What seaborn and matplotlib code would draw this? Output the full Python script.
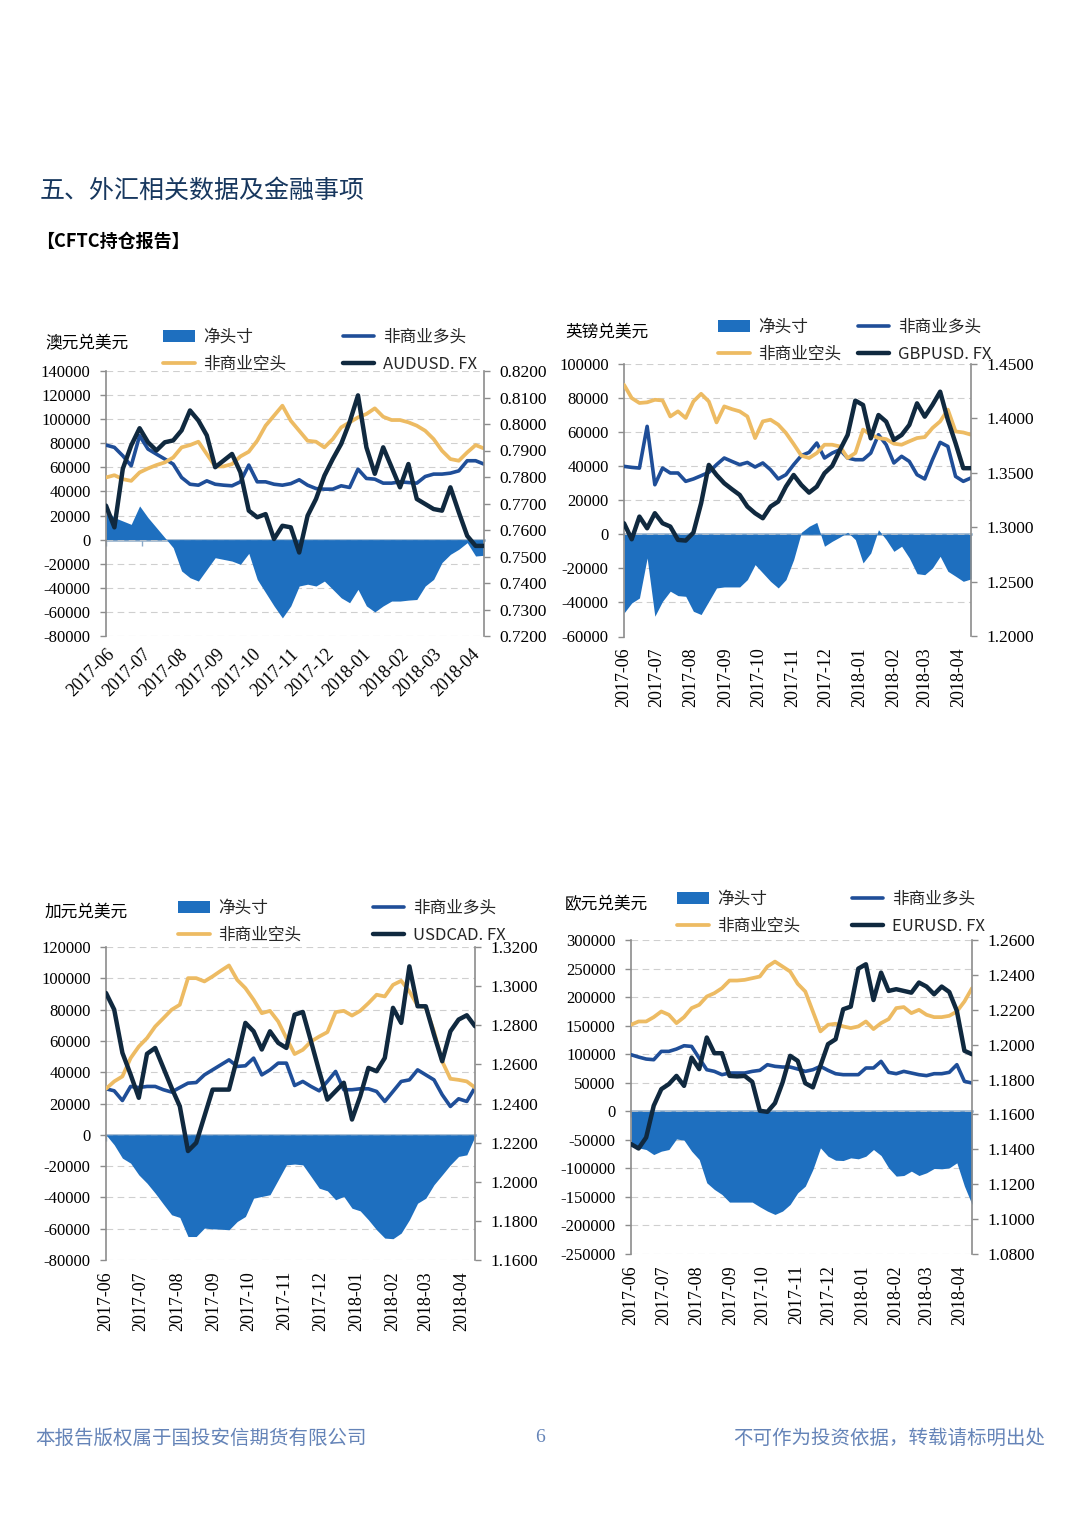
import numpy as np
import pandas as pd
import matplotlib
matplotlib.use("Agg")
import matplotlib.pyplot as plt
import matplotlib.dates as mdates
import seaborn as sns

# ---------------- data ----------------
dates = pd.date_range("2017-06-06", periods=46, freq="7D")
month_ticks = pd.date_range("2017-06-06", periods=11, freq=pd.DateOffset(months=1))
month_labels = [d.strftime("%Y-%m") for d in month_ticks]

legend_labels = ["净头寸", "非商业空头", "非商业多头"]

aud_net = [25200, 18300, 15500, 12700, 28000, 18300, 10000, 1700, -6700, -26000, -31600, -34400,
           -24700, -15000, -16400, -17800, -20500, -11400, -33000, -44000, -55000, -65000, -55000,
           -38500, -37000, -38500, -34400, -41300, -48300, -52400, -41300, -55000, -60000, -55000,
           -51000, -51000, -50200, -49700, -38500, -33000, -19000, -12200, -8000, -2500, -13600, -13000]
aud_long = [78500, 76600, 69600, 61300, 86300, 75200, 71000, 66900, 62700, 51600, 46000, 45200,
            48800, 46000, 45200, 44700, 48000, 61900, 48000, 48000, 46000, 45200, 46500,
            49700, 45200, 42400, 41900, 41900, 44700, 43300, 58500, 50800, 50200, 46900, 46900,
            48000, 47400, 46900, 52400, 54400, 54400, 55200, 57100, 65500, 65500, 62700]
aud_short = [51600, 53500, 50200, 48800, 55800, 59100, 61900, 64100, 68200, 76600, 78500, 81300,
             71000, 60800, 60800, 62700, 69100, 73000, 82100, 94600, 102900, 111200, 98700,
             90400, 82100, 81300, 76600, 83500, 93200, 97400, 101500, 104300, 109000, 102000, 99300,
             99300, 97400, 94600, 90400, 83500, 73800, 66900, 65500, 72400, 78500, 75700]
aud_fx = [0.7692, 0.7610, 0.7831, 0.7919, 0.7984, 0.7931, 0.7900, 0.7931, 0.7938, 0.7976, 0.8051,
          0.8013, 0.7957, 0.7837, 0.7862, 0.7887, 0.7818, 0.7673, 0.7648, 0.7660, 0.7566, 0.7616,
          0.7610, 0.7515, 0.7654, 0.7717, 0.7805, 0.7868, 0.7925, 0.8007, 0.8108, 0.7912, 0.7812,
          0.7912, 0.7837, 0.7761, 0.7849, 0.7717, 0.7698, 0.7679, 0.7673, 0.7761, 0.7667, 0.7578,
          0.7540, 0.7540]

gbp_net = [-46200, -40300, -37400, -13900, -48100, -39300, -33400, -36000, -36400, -45200, -47100,
           -39300, -31500, -30900, -30900, -30900, -26600, -17800, -22700, -27600, -31500, -26600,
           -14900, 1200, 4700, 7000, -7000, -4100, -1600, 1200, -3100, -16800, -11000, 2700, -3100,
           -10000, -7000, -13900, -23100, -23700, -19800, -12900, -21700, -24600, -27600, -26200]
gbp_long = [39900, 39300, 38900, 63400, 29100, 38900, 36000, 36000, 31100, 32500, 34400, 36400,
            40900, 44800, 42800, 40900, 42200, 39500, 41900, 37900, 32500, 35000, 40900,
            46200, 48100, 53600, 44800, 47700, 49700, 44800, 43800, 43800, 47700, 58500, 52600,
            41900, 45800, 42800, 35000, 32500, 43800, 54000, 51600, 34000, 31100, 33100]
gbp_short = [87800, 80000, 77100, 77500, 79000, 78600, 69200, 72200, 68300, 78000, 82500, 78000,
             65700, 75100, 73500, 72200, 69200, 56500, 66300, 67300, 64400, 59500, 53000,
             46200, 44800, 47700, 52600, 52600, 51600, 44800, 47700, 61500, 58500, 56500, 55900,
             53200, 52600, 54600, 56500, 57100, 62400, 66300, 73200, 60400, 59800, 58500]
gbp_fx = [1.3039, 1.2892, 1.3100, 1.2993, 1.3131, 1.3039, 1.3009, 1.2886, 1.2880, 1.2953, 1.3222,
          1.3574, 1.3482, 1.3406, 1.3351, 1.3299, 1.3192, 1.3131, 1.3085, 1.3192, 1.3238, 1.3375,
          1.3482, 1.3390, 1.3320, 1.3375, 1.3498, 1.3565, 1.3711, 1.3849, 1.4164, 1.4124, 1.3818,
          1.4032, 1.3971, 1.3803, 1.3849, 1.3941, 1.4139, 1.4017, 1.4124, 1.4246, 1.3987, 1.3773,
          1.3544, 1.3544]

cad_net = [0, -6400, -14900, -18100, -25600, -30900, -37300, -44300, -51100, -52800, -65000, -65000,
           -59600, -60100, -60300, -60700, -55400, -52200, -40500, -39400, -38300, -28800, -19200,
           -18700, -19200, -26600, -34100, -35800, -41500, -39400, -46900, -48600, -54300, -60700,
           -66000, -66400, -62800, -54300, -43700, -40500, -31900, -25600, -19200, -13800, -12800, -1000]
cad_long = [29400, 28100, 21900, 30900, 30200, 30900, 30900, 28800, 27300, 30200, 33000, 33400,
            38300, 41500, 44700, 47900, 43700, 44100, 49000, 38300, 41500, 45800, 45800, 31500,
            34100, 30900, 28100, 34100, 40500, 28800, 28800, 29400, 29400, 27700, 21300, 27700,
            34100, 35100, 41500, 38300, 35100, 25600, 18100, 23000, 21300, 30200]
cad_short = [29400, 34100, 37300, 49000, 56400, 61800, 69200, 74500, 79900, 83100, 100100, 100100,
             98000, 101200, 104800, 108200, 99000, 93700, 86300, 77700, 79200, 72400, 61800, 51600,
             54300, 59600, 62800, 65600, 78400, 79200, 76200, 79200, 84100, 89500, 88400, 95800,
             98400, 91600, 82600, 81400, 66000, 46900, 35800, 35100, 34100, 30200]
cad_fx = [1.2965, 1.2880, 1.2659, 1.2548, 1.2429, 1.2654, 1.2684, 1.2582, 1.2480, 1.2386, 1.2157,
          1.2199, 1.2335, 1.2471, 1.2471, 1.2471, 1.2633, 1.2812, 1.2769, 1.2676, 1.2769, 1.2710,
          1.2684, 1.2854, 1.2868, 1.2718, 1.2565, 1.2420, 1.2463, 1.2506, 1.2318, 1.2437, 1.2582,
          1.2565, 1.2633, 1.2889, 1.2812, 1.3101, 1.2897, 1.2897, 1.2752, 1.2616, 1.2769, 1.2829,
          1.2851, 1.2795]

eur_net = [-58300, -64100, -67000, -75800, -69900, -67000, -48400, -50700, -69900, -84500, -125300,
           -136900, -145700, -159100, -159100, -159100, -159100, -167300, -174800, -180700, -174800,
           -163200, -142800, -131100, -102000, -64100, -78700, -85700, -86300, -81600, -83300, -78700,
           -67000, -77500, -99100, -113600, -112500, -104900, -112500, -107800, -100200, -100800,
           -99100, -90300, -131100, -163200]
eur_long = [99100, 95000, 91500, 90300, 104900, 104900, 109000, 114800, 113600, 93000, 72800, 69900,
            64100, 67000, 67000, 67000, 69900, 71700, 81600, 78700, 77500, 77500, 74000,
            69900, 72800, 78700, 71700, 65800, 64100, 64100, 64100, 75800, 75800, 87400, 68200,
            65800, 69900, 67000, 64100, 62400, 65800, 65800, 68200, 81600, 52400, 49500]
eur_short = [151500, 157300, 157300, 164900, 174800, 169000, 154400, 164900, 180700, 186500, 201000,
             206900, 215600, 229000, 229000, 230200, 233100, 236000, 253500, 262200, 253500, 244800,
             223300, 209800, 174800, 139900, 151500, 153300, 148600, 145700, 148600, 157300, 144000,
             154400, 161400, 180700, 182500, 171900, 177700, 169000, 164900, 164900, 167200, 174800,
             192300, 215600]
eur_fx = [1.1430, 1.1405, 1.1468, 1.1650, 1.1745, 1.1774, 1.1821, 1.1764, 1.1926, 1.1860, 1.2041,
          1.1951, 1.1951, 1.1821, 1.1818, 1.1821, 1.1787, 1.1621, 1.1615, 1.1665, 1.1783, 1.1936,
          1.1907, 1.1779, 1.1755, 1.1879, 1.2003, 1.2031, 1.2203, 1.2218, 1.2436, 1.2461, 1.2256,
          1.2413, 1.2308, 1.2318, 1.2308, 1.2298, 1.2356, 1.2333, 1.2289, 1.2333, 1.2302, 1.2194,
          1.1965, 1.1945]

# ---------------- style ----------------
sns.set_theme(style="white")
plt.rcParams["font.family"] = ["Noto Sans CJK SC", "DejaVu Sans"]
plt.rcParams["axes.unicode_minus"] = False

NET_C = "#1E6FBF"
LONG_C = "#1F4E98"
SHORT_C = "#EDBB63"
FX_C = "#10293F"
SPINE_C = "#8C8C8C"
ZERO_C = "#8CAAC8"
GRID_C = "#CFCFCF"
NUM_FONT = "Liberation Serif"

W, H = 1080, 1526
fig = plt.figure(figsize=(W / 100, H / 100), dpi=100)
fig.patch.set_facecolor("white")


def fxy(x, y):
    return x / W, 1 - y / H


def panel(rect, net, long_, short, fx, fxname, lyl, lstep, ryl, rstep, rot, lab_pad,
          leg_xy, colsp, title, title_xy):
    l, t, r, b = rect
    ax = fig.add_axes([l / W, 1 - b / H, (r - l) / W, (b - t) / H])
    df = pd.DataFrame({"date": dates, "net": net, "long": long_, "short": short, "fx": fx})

    h_net = ax.fill_between(df["date"], 0, df["net"], color=NET_C, lw=0, zorder=1)
    sns.lineplot(data=df, x="date", y="long", ax=ax, color=LONG_C, lw=2.6, zorder=3)
    sns.lineplot(data=df, x="date", y="short", ax=ax, color=SHORT_C, lw=2.7, zorder=3)
    h_long, h_short = ax.lines[0], ax.lines[1]

    ax.set_ylim(*lyl)
    lt = np.arange(lyl[0], lyl[1] + 1, lstep)
    ax.set_yticks(lt)
    ax.set_yticklabels([f"{int(v)}" for v in lt])
    ax.set_xlim(dates[0], dates[-1])
    ax.set_xticks(month_ticks)
    if rot == 45:
        ax.set_xticklabels(month_labels, rotation=45, ha="right", rotation_mode="anchor")
    else:
        ax.set_xticklabels(month_labels, rotation=90, ha="center", va="top")
    ax.set_xlabel("")
    ax.set_ylabel("")
    ax.set_axisbelow(True)
    ax.yaxis.grid(True, color=GRID_C, linestyle=(0, (6, 4)), lw=0.8)
    ax.xaxis.grid(False)
    for s in ["top", "right", "bottom"]:
        ax.spines[s].set_visible(False)
    ax.spines["left"].set_color(SPINE_C)
    ax.spines["left"].set_linewidth(1.2)
    ax.tick_params(axis="y", which="both", left=True, direction="out", length=4, width=1,
                   color=SPINE_C, labelsize=12, labelfontfamily=NUM_FONT, pad=7, labelcolor="black")
    ax.tick_params(axis="x", which="both", bottom=False, length=0, labelsize=13,
                   labelfontfamily=NUM_FONT, pad=lab_pad, labelcolor="black")

    # category axis line at zero, with month tick marks
    frac = (0 - lyl[0]) / (lyl[1] - lyl[0])
    sec = ax.secondary_xaxis(frac)
    sec.set_xticks(mdates.date2num(month_ticks))
    sec.tick_params(axis="x", direction="out", length=4, width=1, color=ZERO_C, labelbottom=False,
                    labeltop=False)
    sec.spines["bottom"].set_color(ZERO_C)
    sec.spines["bottom"].set_linewidth(1.8)

    ax2 = ax.twinx()
    sns.lineplot(data=df, x="date", y="fx", ax=ax2, color=FX_C, lw=3.2, zorder=4)
    h_fx = ax2.lines[0]
    ax2.set_ylim(*ryl)
    rt = np.arange(ryl[0], ryl[1] + rstep / 2, rstep)
    ax2.set_yticks(rt)
    ax2.set_yticklabels([f"{v:.4f}" for v in rt])
    ax2.set_ylabel("")
    ax2.set_xlabel("")
    ax2.grid(False)
    for s in ["top", "left", "bottom"]:
        ax2.spines[s].set_visible(False)
    ax2.spines["right"].set_color(SPINE_C)
    ax2.spines["right"].set_linewidth(1.2)
    ax2.tick_params(axis="y", right=True, direction="out", length=4, width=1, color=SPINE_C,
                    labelsize=12.5, labelfontfamily=NUM_FONT, pad=7, labelcolor="black")
    ax2.set_xlim(dates[0], dates[-1])

    fig.legend(handles=[h_net, h_short, h_long, h_fx],
               labels=legend_labels + [fxname],
               loc="upper left", bbox_to_anchor=fxy(leg_xy[0], leg_xy[1] - 7),
               bbox_transform=fig.transFigure, ncol=2, frameon=False, borderpad=0,
               borderaxespad=0, handlelength=1.9, handletextpad=0.5, columnspacing=colsp,
               labelspacing=0.6, prop={"size": 12, "style": "italic"})
    fig.text(*fxy(*title_xy), title, fontsize=12, ha="left", va="center", color="black")


panel((106, 371, 484, 636), aud_net, aud_long, aud_short, aud_fx, "AUDUSD. FX",
      (-80000, 140000), 20000, (0.72, 0.82), 0.01, 45, 7, (163, 336), 3.4, "澳元兑美元", (45, 344))
panel((624, 364, 971, 636.5), gbp_net, gbp_long, gbp_short, gbp_fx, "GBPUSD. FX",
      (-60000, 100000), 20000, (1.20, 1.45), 0.05, 90, 8, (718, 326), 1.0, "英镑兑美元", (565, 332))
panel((106, 947, 475, 1260), cad_net, cad_long, cad_short, cad_fx, "USDCAD. FX",
      (-80000, 120000), 20000, (1.16, 1.32), 0.02, 90, 8, (178, 907), 4.3, "加元兑美元", (45, 912))
panel((631, 940, 972, 1254), eur_net, eur_long, eur_short, eur_fx, "EURUSD. FX",
      (-250000, 300000), 50000, (1.08, 1.26), 0.02, 90, 8, (677, 898), 3.1, "欧元兑美元", (565, 905))

# ---------------- page texts ----------------
fig.text(*fxy(40, 191), "五、外汇相关数据及金融事项", fontsize=18, color="#17375E",
         ha="left", va="center")
fig.text(*fxy(36, 241), "【CFTC持仓报告】", fontsize=13, color="black", fontweight="bold",
         ha="left", va="center")
FOOT_C = "#6584B8"
fig.text(*fxy(35, 1438), "本报告版权属于国投安信期货有限公司", fontsize=14, color=FOOT_C,
         ha="left", va="center")
fig.text(*fxy(540, 1438), "6", fontsize=14, color=FOOT_C, ha="center", va="center",
         family=NUM_FONT)
fig.text(*fxy(1045, 1438), "不可作为投资依据，转载请标明出处", fontsize=14, color=FOOT_C,
         ha="right", va="center")

fig.savefig("out.png", dpi=100)
